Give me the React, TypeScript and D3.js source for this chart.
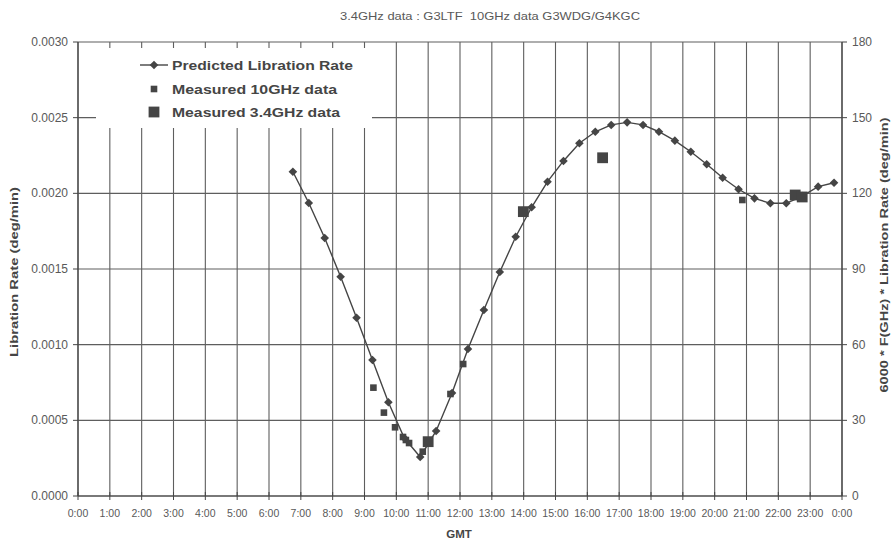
import React from "react";
import * as d3 from "d3";

// Predicted libration rate, sampled every half hour from 06:45 GMT
const predictedHours = [
  6.75, 7.25, 7.75, 8.25, 8.75, 9.25, 9.75, 10.25, 10.75, 11.25, 11.75, 12.25,
  12.75, 13.25, 13.75, 14.25, 14.75, 15.25, 15.75, 16.25, 16.75, 17.25, 17.75,
  18.25, 18.75, 19.25, 19.75, 20.25, 20.75, 21.25, 21.75, 22.25, 22.75, 23.25,
  23.75,
];
const predictedRate = [
  0.002143, 0.001936, 0.001705, 0.001449, 0.001178, 0.000899, 0.000619,
  0.000383, 0.000258, 0.00043, 0.000681, 0.000971, 0.001229, 0.00148, 0.001713,
  0.001908, 0.002077, 0.002214, 0.002331, 0.002407, 0.002452, 0.002469,
  0.002452, 0.002407, 0.002348, 0.002275, 0.002192, 0.002103, 0.002027,
  0.001967, 0.001934, 0.001934, 0.001982, 0.002044, 0.00207,
];

// Measured 10 GHz points (G3WDG/G4KGC)
const meas10Hours = [9.28, 9.61, 9.96, 10.21, 10.3, 10.4, 10.83, 11.7, 12.1, 20.87];
const meas10Rate = [
  0.000716, 0.000551, 0.000454, 0.00039, 0.00037, 0.00035, 0.000293, 0.000674,
  0.000872, 0.001956,
];

// Measured 3.4 GHz points (G3LTF)
const meas34Hours = [11.0, 13.99, 16.48, 22.53, 22.75];
const meas34Rate = [0.000359, 0.001879, 0.002235, 0.001989, 0.001976];

const hourTicks = d3.range(0, 25);
const leftTicks = [0, 0.0005, 0.001, 0.0015, 0.002, 0.0025, 0.003];
const rightTicks = [0, 30, 60, 90, 120, 150, 180];

const titleText = "3.4GHz data : G3LTF\u00a0\u00a010GHz data G3WDG/G4KGC";
const legendLabels = [
  "Predicted Libration Rate",
  "Measured 10GHz data",
  "Measured 3.4GHz data",
];
const legendWidths = [181, 165, 168];

const W = 892;
const H = 541;
const left = 78;
const right = 842;
const top = 42;
const bottom = 496;

const FONT = "'Liberation Sans', Arial, sans-serif";
const INK = "#454545";
const GRID = "#5e5e5e";
const TEXT = "#595959";

export default function App() {
  const x = d3.scaleLinear().domain([0, 24]).range([left, right]);
  const y = d3.scaleLinear().domain([0, 0.003]).range([bottom, top]);
  const y2 = d3.scaleLinear().domain([0, 180]).range([bottom, top]);

  const line = d3
    .line<number>()
    .x((_, i) => x(predictedHours[i]))
    .y((d) => y(d));

  const diamond = (cx: number, cy: number, r: number) =>
    `M${cx},${cy - r}L${cx + r},${cy}L${cx},${cy + r}L${cx - r},${cy}Z`;

  const fmt = d3.format(".4f");

  return (
    <svg
      width={W}
      height={H}
      style={{ position: "absolute", left: 0, top: 0, background: "#fff" }}
      fontFamily={FONT}
    >
      <rect x={0} y={0} width={W} height={H} fill="#fff" />

      {/* title */}
      <text
        x={340}
        y={20}
        fontSize={11.5}
        fill={TEXT}
        textLength={300}
        lengthAdjust="spacingAndGlyphs"
      >
        {titleText}
      </text>

      {/* grid */}
      {hourTicks.map((h) => (
        <line key={"gx" + h} x1={x(h)} x2={x(h)} y1={top} y2={bottom} stroke={GRID} strokeWidth={1.1} />
      ))}
      {leftTicks.map((v) => (
        <line key={"gy" + v} x1={left} x2={right} y1={y(v)} y2={y(v)} stroke={GRID} strokeWidth={1.1} />
      ))}

      {/* left axis */}
      <line x1={left} x2={left} y1={top} y2={bottom} stroke={INK} strokeWidth={1.2} />
      {leftTicks.map((v) => (
        <g key={"ly" + v}>
          <line x1={left - 5} x2={left} y1={y(v)} y2={y(v)} stroke={INK} />
          <text x={left - 10} y={y(v) + 4} textAnchor="end" fontSize={12} fill={TEXT}>
            {fmt(v)}
          </text>
        </g>
      ))}

      {/* right axis */}
      <line x1={right} x2={right} y1={top} y2={bottom} stroke={INK} strokeWidth={1.2} />
      {rightTicks.map((v) => (
        <g key={"ry" + v}>
          <line x1={right} x2={right + 5} y1={y2(v)} y2={y2(v)} stroke={INK} />
          <text x={right + 10} y={y2(v) + 4} textAnchor="start" fontSize={12} fill={TEXT}>
            {v}
          </text>
        </g>
      ))}

      {/* bottom axis */}
      <line x1={left} x2={right} y1={bottom} y2={bottom} stroke={INK} strokeWidth={1.2} />
      {hourTicks.map((h) => (
        <g key={"bx" + h}>
          <line x1={x(h)} x2={x(h)} y1={bottom - 4} y2={bottom + 4} stroke={INK} />
          <text x={x(h)} y={bottom + 21} textAnchor="middle" fontSize={10.5} fill={TEXT}>
            {`${h % 24}:00`}
          </text>
        </g>
      ))}

      {/* axis titles */}
      <text x={459} y={538} textAnchor="middle" fontSize={11.5} fontWeight="bold" fill={INK}>
        GMT
      </text>
      <text
        transform={`translate(18,272) rotate(-90)`}
        textAnchor="middle"
        fontSize={11}
        fontWeight="bold"
        fill={INK}
        textLength={170}
        lengthAdjust="spacingAndGlyphs"
      >
        Libration Rate (deg/min)
      </text>
      <text
        transform={`translate(888,255) rotate(-90)`}
        textAnchor="middle"
        fontSize={11}
        fontWeight="bold"
        fill={INK}
        textLength={275}
        lengthAdjust="spacingAndGlyphs"
      >
        6000 * F(GHz) * Libration Rate (deg/min)
      </text>

      {/* predicted curve */}
      <path d={line(predictedRate) || ""} fill="none" stroke={INK} strokeWidth={1.4} />
      {predictedRate.map((v, i) => (
        <path key={"pd" + i} d={diamond(x(predictedHours[i]), y(v), 4.3)} fill={INK} />
      ))}

      {/* measured 10 GHz */}
      {meas10Rate.map((v, i) => (
        <rect key={"m10" + i} x={x(meas10Hours[i]) - 3.3} y={y(v) - 3.3} width={6.6} height={6.6} fill={INK} />
      ))}

      {/* measured 3.4 GHz */}
      {meas34Rate.map((v, i) => (
        <rect key={"m34" + i} x={x(meas34Hours[i]) - 5.4} y={y(v) - 5.4} width={10.8} height={10.8} fill={INK} />
      ))}

      {/* legend */}
      <rect x={96} y={48} width={276} height={80} fill="#fff" />
      <line x1={140} x2={168} y1={65} y2={65} stroke={INK} strokeWidth={1.4} />
      <path d={diamond(154, 65, 4.3)} fill={INK} />
      <rect x={154 - 3.3} y={89 - 3.3} width={6.6} height={6.6} fill={INK} />
      <rect x={154 - 5.4} y={112 - 5.4} width={10.8} height={10.8} fill={INK} />
      {legendLabels.map((t, i) => (
        <text
          key={t}
          x={172}
          y={[65, 89, 112][i] + 5}
          fontSize={13}
          fontWeight="bold"
          fill={INK}
          textLength={legendWidths[i]}
          lengthAdjust="spacingAndGlyphs"
        >
          {t}
        </text>
      ))}
    </svg>
  );
}
